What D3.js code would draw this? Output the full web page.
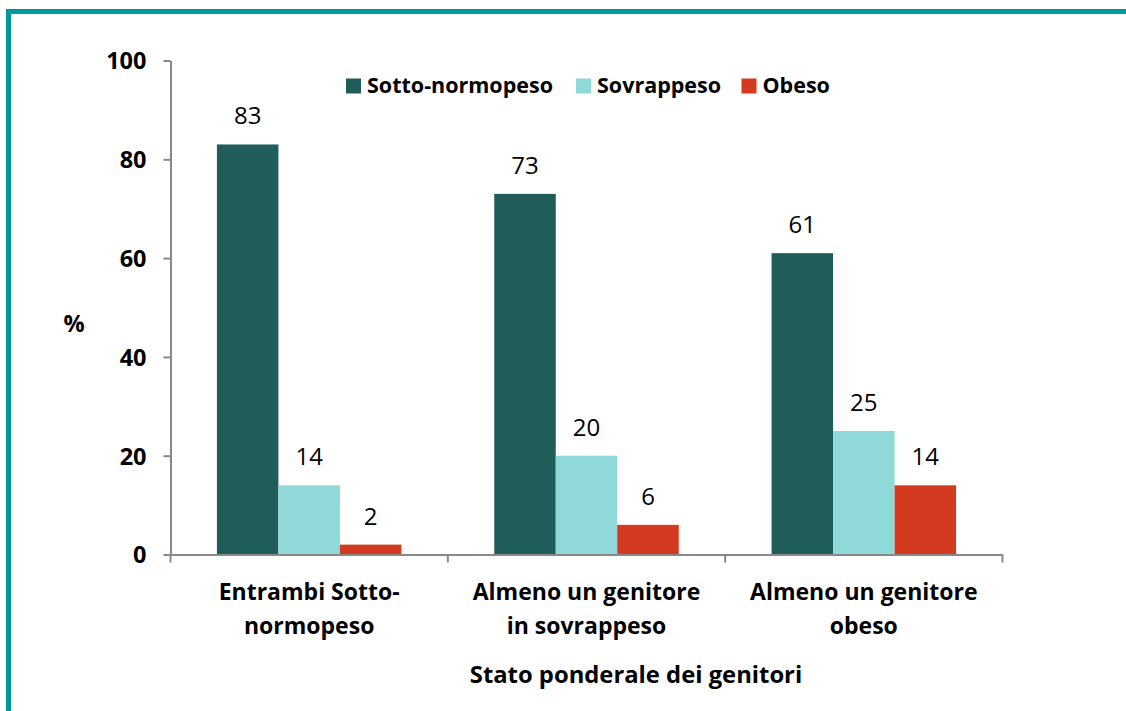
<!DOCTYPE html>
<html><head><meta charset="utf-8">
<script src="https://cdn.jsdelivr.net/npm/d3@7/dist/d3.min.js"></script>
<style>
html,body{margin:0;padding:0;background:#fff;}
svg text{font-family:"Open Sans","Lato",sans-serif;}
</style></head>
<body>
<svg id="c" width="1126" height="711"></svg>
<script>
const categories = [["Entrambi Sotto-","normopeso"],["Almeno un genitore","in sovrappeso"],["Almeno un genitore","obeso"]];
const series = ["Sotto-normopeso","Sovrappeso","Obeso"];
const sottoNormopeso = [83,73,61];
const sovrappeso = [14,20,25];
const obeso = [2,6,14];
const yTicks = [0,20,40,60,80,100];
const colors = ["#1F5C5A","#8FDAD8","#D33A1F"];
const values = [sottoNormopeso, sovrappeso, obeso];

(function(){
const svg = d3.select("#c");
// frame
svg.append("rect").attr("x",6).attr("y",9).attr("width",1126).attr("height",5).attr("fill","#00999A");
svg.append("rect").attr("x",6).attr("y",9).attr("width",5).attr("height",711).attr("fill","#00999A");

const pLeft=170.5, pRight=1002.5, pTop=60.5, pBottom=554.5;
const x = d3.scaleBand().domain(d3.range(3)).range([pLeft,pRight]).paddingInner(0).paddingOuter(0);
const bw = 61.5;
const y = d3.scaleLinear().domain([0,100]).range([pBottom,pTop]);

// bars
series.forEach((s,si)=>{
  const g = svg.append("g");
  g.selectAll("rect").data(values[si]).join("rect")
    .attr("x",(d,i)=>x(i)+x.bandwidth()/2-1.5*bw+si*bw)
    .attr("y",d=>y(d)).attr("width",bw).attr("height",d=>y(0)-y(d))
    .attr("fill",colors[si]);
  g.selectAll("text").data(values[si]).join("text")
    .attr("x",(d,i)=>x(i)+x.bandwidth()/2-1.5*bw+si*bw+bw/2)
    .attr("y",d=>y(d)-20).attr("text-anchor","middle")
    .attr("font-size",24).attr("fill","#000").text(d=>d);
});

// y axis
const ya = svg.append("g").attr("transform",`translate(${pLeft},0)`)
  .call(d3.axisLeft(y).tickValues(yTicks).tickSize(7).tickPadding(17).tickSizeOuter(0));
ya.select(".domain").attr("stroke","#898989").attr("stroke-width",2);
ya.selectAll(".tick line").attr("stroke","#898989").attr("stroke-width",2);
ya.selectAll(".tick text").attr("font-size",23.5).attr("font-weight","bold").attr("fill","#000")
  .attr("dy","0.36em");

// x axis
const xa = svg.append("g").attr("transform",`translate(0,${pBottom})`)
  .call(d3.axisBottom(x).tickSize(0).tickFormat(""));
xa.select(".domain").attr("stroke","#898989").attr("stroke-width",2);
xa.selectAll(".tick").remove();
const bounds = [0,1,2].map(i=>x(i)).concat([pRight]);
xa.selectAll("line.sep").data(bounds).join("line").attr("class","sep")
  .attr("x1",d=>d).attr("x2",d=>d).attr("y1",0).attr("y2",8)
  .attr("stroke","#898989").attr("stroke-width",2);

// category labels
categories.forEach((lines,i)=>{
  const t = svg.append("text").attr("x",x(i)+x.bandwidth()/2).attr("y",600)
    .attr("text-anchor","middle").attr("font-size",23).attr("font-weight","bold").attr("fill","#000");
  lines.forEach((l,j)=>t.append("tspan").attr("x",x(i)+x.bandwidth()/2).attr("y",600+j*34).text(l));
});

// axis titles
svg.append("text").attr("x",636).attr("y",683).attr("text-anchor","middle")
  .attr("font-size",23.8).attr("font-weight","bold").text("Stato ponderale dei genitori");
svg.append("text").attr("x",74).attr("y",332).attr("text-anchor","middle")
  .attr("font-size",23.5).attr("font-weight","bold").text("%");

// legend
const legX = [346,576,741.5];
series.forEach((s,i)=>{
  svg.append("rect").attr("x",legX[i]).attr("y",78.5).attr("width",15).attr("height",15).attr("fill",colors[i]);
  svg.append("text").attr("x",legX[i]+21).attr("y",93).attr("font-size",21.5).attr("font-weight","bold").text(s);
});
})();
</script>
</body></html>
